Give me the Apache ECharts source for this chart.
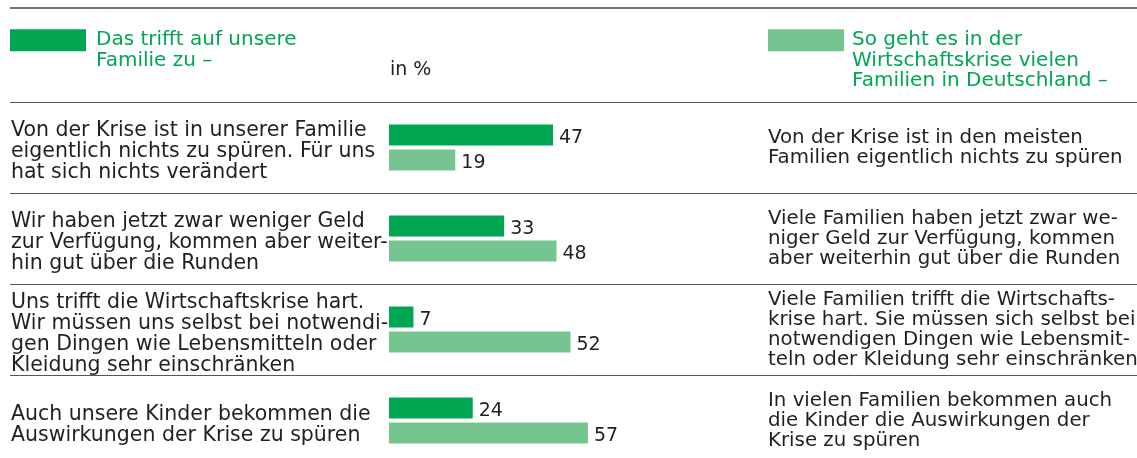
<!DOCTYPE html>
<html>
<head>
<meta charset="utf-8">
<script src="https://cdn.jsdelivr.net/npm/echarts@6/dist/echarts.min.js"></script>
<style>
html,body{margin:0;padding:0;background:#fff;}
#chart{width:1137px;height:458px;}
</style>
</head>
<body>
<div id="chart"></div>
<script>
// ---- data ----
const statementsOwn = [
  'Von der Krise ist in unserer Familie\neigentlich nichts zu spüren. Für uns\nhat sich nichts verändert',
  'Wir haben jetzt zwar weniger Geld\nzur Verfügung, kommen aber weiter-\nhin gut über die Runden',
  'Uns trifft die Wirtschaftskrise hart.\nWir müssen uns selbst bei notwendi-\ngen Dingen wie Lebensmitteln oder\nKleidung sehr einschränken',
  'Auch unsere Kinder bekommen die\nAuswirkungen der Krise zu spüren'
];
const statementsOthers = [
  'Von der Krise ist in den meisten\nFamilien eigentlich nichts zu spüren',
  'Viele Familien haben jetzt zwar we-\nniger Geld zur Verfügung, kommen\naber weiterhin gut über die Runden',
  'Viele Familien trifft die Wirtschafts-\nkrise hart. Sie müssen sich selbst bei\nnotwendigen Dingen wie Lebensmit-\nteln oder Kleidung sehr einschränken',
  'In vielen Familien bekommen auch\ndie Kinder die Auswirkungen der\nKrise zu spüren'
];
const ownFamilyValues = [47, 33, 7, 24];
const familiesGermanyValues = [19, 48, 52, 57];
const seriesNames = [
  'Das trifft auf unsere Familie zu –',
  'So geht es in der Wirtschaftskrise vielen Familien in Deutschland –'
];
const legendLines = [
  ['Das trifft auf unsere', 'Familie zu –'],
  ['So geht es in der', 'Wirtschaftskrise vielen', 'Familien in Deutschland –']
];
const unitLabel = 'in %';

// ---- style ----
const FONT = 'DejaVu Sans';
const DARK = '#00a651';
const LIGHT = '#76c590';
const TEXT = '#231f20';
const GRID_TOP = 102;
const GRID_H = 364;

// legend text: first line aligned with the swatch (blank lines above balance the block)
function legendText(lines) {
  return new Array(lines.length - 1).fill('').concat(lines).join('\n');
}

const chart = echarts.init(document.getElementById('chart'), null, {renderer: 'canvas'});

const option = {
  animation: false,
  backgroundColor: '#fff',
  textStyle: {fontFamily: FONT},
  title: {
    text: unitLabel,
    left: 390, top: 61, padding: 0,
    textStyle: {fontFamily: FONT, fontSize: 19, fontWeight: 'normal', color: TEXT}
  },
  legend: [
    {
      data: [seriesNames[0]],
      left: 10, top: 9.5, padding: 0,
      icon: 'rect', itemWidth: 76, itemHeight: 22,
      selectedMode: false,
      formatter: () => legendText(legendLines[0]),
      textStyle: {fontFamily: FONT, fontSize: 20, lineHeight: 20.5, color: DARK, padding: [0, 0, 0, 5]}
    },
    {
      data: [seriesNames[1]],
      left: 768, top: -11, padding: 0,
      icon: 'rect', itemWidth: 76, itemHeight: 22,
      selectedMode: false,
      formatter: () => legendText(legendLines[1]),
      textStyle: {fontFamily: FONT, fontSize: 20, lineHeight: 20.5, color: DARK, padding: [0, 0, 0, 3]}
    }
  ],
  graphic: [
    {type: 'line', shape: {x1: 10, y1: 8, x2: 1137, y2: 8}, style: {stroke: '#444', lineWidth: 1.5}}
  ],
  grid: [
    {left: 389, top: GRID_TOP, width: 349, height: GRID_H, outerBoundsMode: 'none', containLabel: false},
    {left: 10, right: 0, top: GRID_TOP + 4.5, height: GRID_H, outerBoundsMode: 'none', containLabel: false},
    {left: 767, right: 0, top: GRID_TOP + 0.5, height: GRID_H, outerBoundsMode: 'none', containLabel: false},
    {left: 10, right: 0, top: GRID_TOP, height: GRID_H, outerBoundsMode: 'none', containLabel: false}
  ],
  xAxis: [
    {gridIndex: 0, type: 'value', min: 0, max: 100, show: false},
    {gridIndex: 1, type: 'value', min: 0, max: 1, show: false},
    {gridIndex: 2, type: 'value', min: 0, max: 1, show: false},
    {gridIndex: 3, type: 'value', min: 0, max: 1, show: false}
  ],
  yAxis: [
    {gridIndex: 0, type: 'category', data: statementsOwn, inverse: true, show: false},
    {
      gridIndex: 1, type: 'category', data: statementsOwn, inverse: true,
      axisLine: {show: false}, axisTick: {show: false}, splitLine: {show: false},
      axisLabel: {
        inside: true, margin: 1, interval: 0, align: 'left', verticalAlign: 'middle',
        fontFamily: FONT, fontSize: 20.5, lineHeight: 21, color: TEXT
      }
    },
    {
      gridIndex: 2, type: 'category', data: statementsOthers, inverse: true,
      axisLine: {show: false}, axisTick: {show: false}, splitLine: {show: false},
      axisLabel: {
        inside: true, margin: 1, interval: 0, align: 'left', verticalAlign: 'middle',
        fontFamily: FONT, fontSize: 19.8, lineHeight: 20, color: TEXT
      }
    },
    {
      gridIndex: 3, type: 'category', data: statementsOwn, inverse: true,
      axisLine: {show: false}, axisTick: {show: false}, axisLabel: {show: false},
      splitLine: {show: true, interval: 0, lineStyle: {color: '#555', width: 1}}
    }
  ],
  series: [
    {
      name: seriesNames[0], type: 'bar', xAxisIndex: 0, yAxisIndex: 0,
      data: ownFamilyValues, barWidth: 21, barGap: '19%',
      itemStyle: {color: DARK},
      label: {show: true, position: 'right', distance: 6, offset: [0, 3],
        fontFamily: FONT, fontSize: 19, color: TEXT}
    },
    {
      name: seriesNames[1], type: 'bar', xAxisIndex: 0, yAxisIndex: 0,
      data: familiesGermanyValues, barWidth: 21, barGap: '19%',
      itemStyle: {color: LIGHT},
      label: {show: true, position: 'right', distance: 6, offset: [0, 3],
        fontFamily: FONT, fontSize: 19, color: TEXT}
    }
  ]
};
chart.setOption(option);
</script>
</body>
</html>
